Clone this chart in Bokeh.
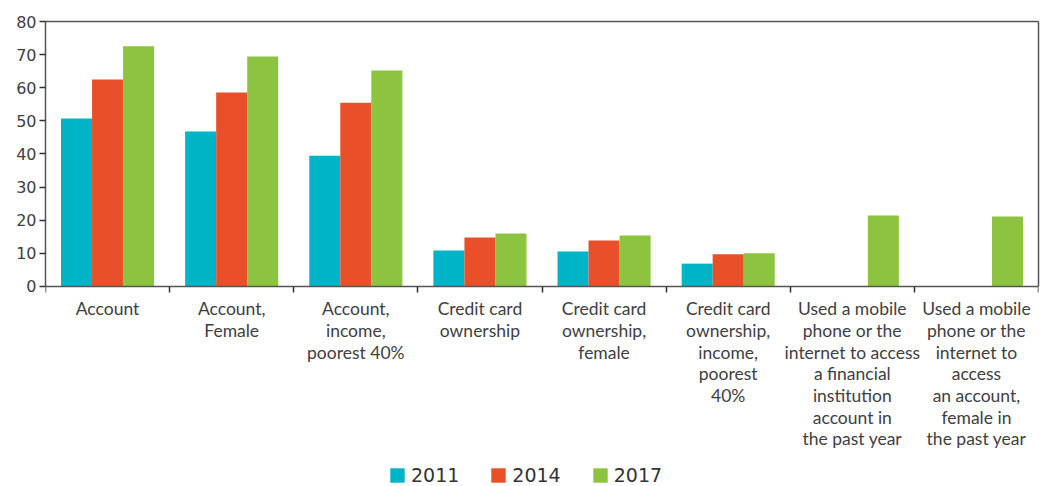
from bokeh.plotting import figure
from bokeh.models import ColumnDataSource, FixedTicker, Legend, LegendItem, Range1d, LinearAxis
from bokeh.transform import dodge
from bokeh.embed import file_html
from bokeh.resources import INLINE

categories = [
    "Account",
    "Account,\nFemale",
    "Account,\nincome,\npoorest 40%",
    "Credit card\nownership",
    "Credit card\nownership,\nfemale",
    "Credit card\nownership,\nincome,\npoorest\n40%",
    "Used a mobile\nphone or the\ninternet to access\na financial\ninstitution\naccount in\nthe past year",
    "Used a mobile\nphone or the\ninternet to\naccess\nan account,\nfemale in\nthe past year",
]
years = ["2011", "2014", "2017"]
v2011 = [50.7, 46.8, 39.5, 10.9, 10.6, 6.9, float("nan"), float("nan")]
v2014 = [62.5, 58.6, 55.5, 14.8, 13.9, 9.7, float("nan"), float("nan")]
v2017 = [72.5, 69.4, 65.2, 16.0, 15.4, 10.0, 21.4, 21.1]
colors = ["#00b4c8", "#e9502a", "#8cc43f"]
yticks = [0, 10, 20, 30, 40, 50, 60, 70, 80]

centers = [i + 0.5 for i in range(len(categories))]
bounds = [float(i) for i in range(len(categories) + 1)]

src = ColumnDataSource(dict(x=centers, y2011=v2011, y2014=v2014, y2017=v2017))

# frame extends below zero so the category labels and legend live inside it
p = figure(frame_width=993, frame_height=465, output_backend="svg", toolbar_location=None,
           x_range=Range1d(0, len(categories)), y_range=Range1d(-60.38, 80),
           x_axis_location=None,
           min_border_left=45, min_border_right=6, min_border_top=21, min_border_bottom=0)

renderers = []
for off, col, c in zip([-0.25, 0.0, 0.25], ["y2011", "y2014", "y2017"], colors):
    r = p.vbar(x=dodge("x", off, range=p.x_range), top=col, width=0.25, bottom=0,
               source=src, fill_color=c, line_color=None)
    renderers.append(r)

p.xgrid.visible = False
p.ygrid.visible = False
p.outline_line_color = None

xa = LinearAxis(fixed_location=0)
xa.ticker = FixedTicker(ticks=centers, minor_ticks=bounds)
xa.major_label_overrides = {c: lab for c, lab in zip(centers, categories)}
xa.major_tick_out = 0
xa.major_tick_in = 0
xa.minor_tick_out = 6
xa.minor_tick_in = 0
xa.minor_tick_line_color = "#333333"
xa.minor_tick_line_width = 1.5
xa.axis_line_color = "#555555"
xa.axis_line_width = 1.5
xa.major_label_text_font = "Lato"
xa.major_label_text_font_size = "17.5px"
xa.major_label_text_color = "#404040"
xa.major_label_text_line_height = 1.03
xa.major_label_standoff = 6
p.add_layout(xa, "below")

ya = p.yaxis[0]
ya.bounds = (0, 80)
ya.ticker = FixedTicker(ticks=yticks)
ya.minor_tick_out = 0
ya.minor_tick_in = 0
ya.major_tick_out = 6
ya.major_tick_in = 0
ya.major_tick_line_color = "#333333"
ya.major_tick_line_width = 1.5
ya.axis_line_color = "#555555"
ya.axis_line_width = 1.5
ya.major_label_text_font = "DejaVu Sans"
ya.major_label_text_font_size = "16px"
ya.major_label_text_color = "#404040"
ya.major_label_standoff = 3

# frame lines on the right and top
ra = LinearAxis(bounds=(0, 80), ticker=FixedTicker(ticks=[]), axis_line_color="#555555",
                axis_line_width=1.5, major_tick_out=0, minor_tick_out=0)
p.add_layout(ra, "right")
ta = LinearAxis(ticker=FixedTicker(ticks=[]), axis_line_color="#555555",
                axis_line_width=1.5, major_tick_out=0, minor_tick_out=0)
p.add_layout(ta, "above")

legend = Legend(items=[LegendItem(label=y, renderers=[r]) for y, r in zip(years, renderers)],
                orientation="horizontal", location=(343, 0),
                label_text_font="DejaVu Sans", label_text_font_size="19px",
                label_text_color="#333333", glyph_width=18, glyph_height=18,
                label_height=18, spacing=30, label_standoff=5, border_line_color=None,
                padding=0, margin=0, background_fill_alpha=0)
p.add_layout(legend, "center")

open("out.html", "w").write(file_html(p, INLINE))
